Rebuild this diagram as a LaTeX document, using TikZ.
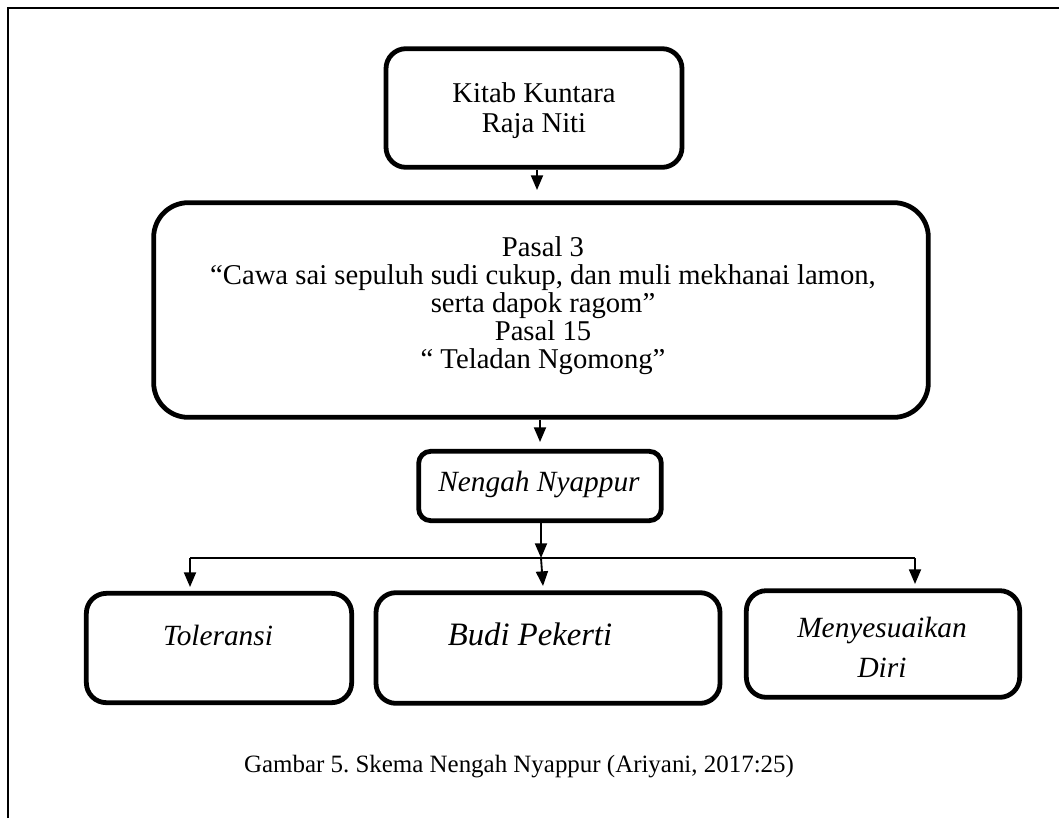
\documentclass[tikz,border=0pt]{standalone}
\usepackage{fontspec}
\setmainfont{Liberation Serif}
\usetikzlibrary{arrows.meta}
\frenchspacing
\begin{document}
\begin{tikzpicture}[x=0.75pt,y=-0.75pt,
  box/.style={draw=black,line width=3.6pt,rounded corners=#1,inner sep=0pt},
  box/.default=15pt,
  txt/.style={font=\fontsize{21.5}{22.5}\selectfont,align=center,inner sep=0pt},
  conn/.style={line width=1.4pt,-{Triangle[width=9pt,length=11pt]}},
  thin/.style={line width=1.1pt}]
\useasboundingbox (0,0) rectangle (1059,818);
% frame
\coordinate (fa) at (8,818);
\coordinate (fb) at (8,8);
\coordinate (fc) at (1059,8);
\draw[line width=1.3pt] (fa) -- (fb) -- (fc);
% boxes
\node[box=15pt,minimum width=222pt,minimum height=89pt] (b1) at (534,108) {};
\node[txt] (t1) at (534,111) {Kitab Kuntara\\Raja Niti};
\node[box=26pt,minimum width=581pt,minimum height=161pt] (b2) at (541,310) {};
\node[txt,font=\fontsize{21.5}{21}\selectfont] (t2) at (543,306) {Pasal 3\\``Cawa sai sepuluh sudi cukup, dan muli mekhanai lamon,\\serta dapok ragom''\\Pasal 15\\`` Teladan Ngomong''};
\node[box=9pt,minimum width=182pt,minimum height=52pt] (b3) at (540,486) {};
\node[txt,font=\fontsize{22}{24}\selectfont] (t3) at (539,484) {\itshape Nengah Nyappur};
\node[box=15pt,minimum width=199pt,minimum height=82pt] (b4) at (219,648) {};
\node[txt,font=\fontsize{22}{24}\selectfont] (t4) at (218,635) {\itshape Toleransi};
\node[box=15pt,minimum width=258pt,minimum height=83pt] (b5) at (548,648) {};
\node[txt,font=\fontsize{24.5}{26}\selectfont] (t5) at (530,634) {\itshape Budi Pekerti};
\node[box=15pt,minimum width=205pt,minimum height=80pt] (b6) at (883,644) {};
\node[txt,font=\fontsize{22}{30}\selectfont] (t6) at (882,647) {\itshape Menyesuaikan\\\itshape Diri};
% connectors
\coordinate (a1) at (537,190);
\draw[conn] (b1.south -| a1) -- (a1);
\coordinate (a2) at (540,442);
\draw[conn] (b2.south -| a2) -- (a2);
\coordinate (hl) at (190,558);
\coordinate (hr) at (915,558);
\coordinate (hm) at (541,558);
\draw[conn] (b3.south -| hm) -- (hm);
\draw[thin] (hl) -- (hr);
\coordinate (d4) at (190,587);
\coordinate (d5) at (543,586);
\coordinate (d6) at (915,584);
\draw[conn] (hl) -- (d4);
\draw[conn] (hm) -- (d5);
\draw[conn] (hr) -- (d6);
% caption
\node[font=\fontsize{18.7}{20}\selectfont,inner sep=0pt] (cap) at (519,767) {Gambar 5. Skema Nengah Nyappur (Ariyani, 2017:25)};
\end{tikzpicture}
\end{document}
